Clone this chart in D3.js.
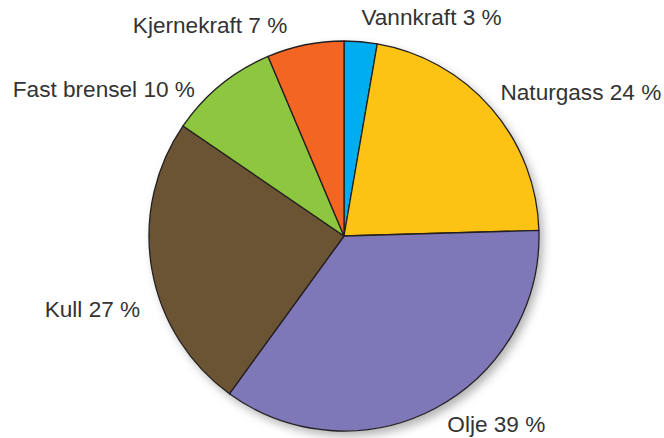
<!DOCTYPE html>
<html>
<head>
<meta charset="utf-8">
<script src="https://cdn.jsdelivr.net/npm/d3@7"></script>
<style>
	html, body { margin: 0; padding: 0; background: #fff; }
	svg text { font-family: "Liberation Sans", Arial, sans-serif; font-size: 22.6px; fill: #333; }
</style>
</head>
<body>
<div id="chart"></div>
<script>
// energikilder, i prosent (summen er 110 slik originalen viser)
const sources = ['Vannkraft', 'Naturgass', 'Olje', 'Kull', 'Fast brensel', 'Kjernekraft'];
const shares = [3, 24, 39, 27, 10, 7];
const sliceColors = ['#00aeef', '#fdc314', '#7f78b8', '#6b5433', '#8dc63f', '#f26522'];

const width = 664, height = 438;
const cx = 344, cy = 236, radius = 195;
const labelRadius = 215;
// small hand nudges for the labels, relative to the label arc
const labelNudge = [[-1, 3], [-6, 5], [3, 6], [8, 44], [-13, 27], [-14, 8]];

var data = sources.map((s, i) => ({ name: s, value: shares[i], color: sliceColors[i], nudge: labelNudge[i] }));

var svg = d3.select('#chart')
	.append('svg')
		.attr('width', width)
		.attr('height', height);

var defs = svg.append('defs');
var shadow = defs.append('filter')
	.attr('id', 'shadow')
	.attr('x', '-20%').attr('y', '-20%')
	.attr('width', '140%').attr('height', '140%');
shadow.append('feDropShadow')
	.attr('dx', 4)
	.attr('dy', 5)
	.attr('stdDeviation', 5)
	.attr('flood-color', '#000')
	.attr('flood-opacity', 0.3);

var g = svg.append('g')
	.attr('transform', 'translate(' + cx + ',' + cy + ')');

g.append('circle')
	.attr('r', radius)
	.attr('fill', '#fff')
	.attr('filter', 'url(#shadow)');

var pie = d3.pie().sort(null).value(d => d.value);
var arc = d3.arc().innerRadius(0).outerRadius(radius);
var labelArc = d3.arc().innerRadius(labelRadius).outerRadius(labelRadius);

var arcs = pie(data);

g.selectAll('path')
	.data(arcs)
	.enter()
	.append('path')
		.attr('d', arc)
		.attr('fill', d => d.data.color)
		.attr('stroke', '#231f20')
		.attr('stroke-width', 1.3)
		.attr('stroke-linejoin', 'round');

g.selectAll('text')
	.data(arcs)
	.enter()
	.append('text')
		.attr('x', d => labelArc.centroid(d)[0] + d.data.nudge[0])
		.attr('y', d => labelArc.centroid(d)[1] + d.data.nudge[1])
		.attr('text-anchor', d => (d.startAngle + d.endAngle) / 2 < Math.PI ? 'start' : 'end')
		.text(d => d.data.name + ' ' + d.data.value + ' %');
</script>
</body>
</html>
